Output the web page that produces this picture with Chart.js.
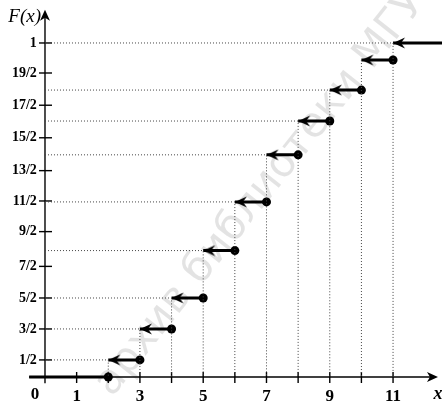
<!DOCTYPE html>
<html>
<head>
<meta charset="utf-8">
<script src="https://cdn.jsdelivr.net/npm/chart.js@4.4.1/dist/chart.umd.min.js"></script>
<style>
  html, body { margin: 0; padding: 0; background: #fff; }
  #wrap { width: 442px; height: 401px; }
</style>
</head>
<body>
<div id="wrap"><canvas id="cdf"></canvas></div>
<script>
// точки скачков функции распределения и её значения между ними
const jumpX = [2, 3, 4, 5, 6, 7, 8, 9, 10, 11];
const levels = [0, 0.054, 0.152, 0.25, 0.40, 0.554, 0.703, 0.81, 0.908, 1.003, 1.057];
// есть ли горизонтальный пунктир от оси F(x) к скачку
const hasGuide = [true, true, true, true, true, true, true, true, false, true];

// подписи осей
const xTicks = [0, 1, 2, 3, 4, 5, 6, 7, 8, 9, 10, 11];
const xLabels = ['0', '1', '', '3', '', '5', '', '7', '', '9', '', '11'];
const yTicks = [0.054, 0.152, 0.25, 0.35, 0.46, 0.557, 0.653, 0.757, 0.86, 0.962, 1.057];
const yLabels = ['1/2', '3/2', '5/2', '7/2', '9/2', '11/2', '13/2', '15/2', '17/2', '19/2', '1'];

const serif = '"Liberation Serif", "DejaVu Serif", serif';

// пунктирные линии к осям
const guideData = [];
jumpX.forEach((x, i) => {
    const y = levels[i + 1];
    if (hasGuide[i]) guideData.push({x: 0, y: y});
    guideData.push({x: x, y: y}, {x: x, y: 0}, {x: x, y: null});
});

// ступеньки: стрелка слева, точка справа
const stepData = [
    {x: -0.5, y: levels[0], kind: 'none'},
    {x: jumpX[0], y: levels[0], kind: 'dot'},
    {x: jumpX[0], y: null}
];
for (let i = 1; i < jumpX.length; i++) {
    stepData.push(
        {x: jumpX[i - 1], y: levels[i], kind: 'arrow'},
        {x: jumpX[i], y: levels[i], kind: 'dot'},
        {x: jumpX[i], y: null}
    );
}
stepData.push(
    {x: jumpX[jumpX.length - 1], y: levels[levels.length - 1], kind: 'arrow'},
    {x: 13, y: levels[levels.length - 1], kind: 'none'}
);

// наконечник стрелки (остриё в центре картинки)
const arrowImg = document.createElement('canvas');
arrowImg.width = 26;
arrowImg.height = 12;
const actx = arrowImg.getContext('2d');
actx.beginPath();
actx.moveTo(13, 6);
actx.lineTo(25, 0.5);
actx.lineTo(21, 6);
actx.lineTo(25, 11.5);
actx.closePath();
actx.fill();

function headTo(ctx, x, y, dx, dy) {
    // маленький наконечник оси
    const nx = -dy, ny = dx;
    ctx.beginPath();
    ctx.moveTo(x, y);
    ctx.lineTo(x - dx * 11 + nx * 5, y - dy * 11 + ny * 5);
    ctx.lineTo(x - dx * 8, y - dy * 8);
    ctx.lineTo(x - dx * 11 - nx * 5, y - dy * 11 - ny * 5);
    ctx.closePath();
    ctx.fill();
}

// оси не должны отнимать место у области графика
function noRoom(s) {
    if (s.axis === 'x') s.height = 0; else s.width = 0;
    s.paddingTop = s.paddingBottom = s.paddingLeft = s.paddingRight = 0;
}

const axesPlugin = {
    id: 'axes',
    beforeDraw(chart) {
        const ctx = chart.ctx;
        ctx.save();
        ctx.fillStyle = '#fff';
        ctx.fillRect(0, 0, chart.width, chart.height);
        // водяной знак скана
        ctx.translate(112, 398);
        ctx.rotate(-0.9);
        ctx.font = '42px "DejaVu Sans"';
        ctx.fillStyle = 'rgba(0,0,0,0.11)';
        ctx.fillText('архив библиотеки МГУ им', 0, 0);
        ctx.restore();
    },
    beforeDatasetsDraw(chart) {
        const {ctx, scales: {x, y}} = chart;
        const x0 = x.getPixelForValue(0);
        const y0 = y.getPixelForValue(0);
        ctx.save();
        ctx.strokeStyle = '#000';
        ctx.fillStyle = '#000';
        ctx.lineWidth = 1.4;

        const xl = x.getPixelForValue(-0.5);
        const xr = x.getPixelForValue(12.42);
        ctx.beginPath();
        ctx.moveTo(xl, y0);
        ctx.lineTo(xr - 6, y0);
        ctx.stroke();
        headTo(ctx, xr, y0, 1, 0);

        const yb = y.getPixelForValue(-0.02);
        const yt = y.getPixelForValue(1.162);
        ctx.beginPath();
        ctx.moveTo(x0, yb);
        ctx.lineTo(x0, yt + 6);
        ctx.stroke();
        headTo(ctx, x0, yt, 0, -1);

        xTicks.forEach(v => {
            if (v === 0) return;
            const px = x.getPixelForValue(v);
            ctx.beginPath();
            ctx.moveTo(px, y0 - 5);
            ctx.lineTo(px, y0 + 6);
            ctx.stroke();
        });
        yTicks.forEach(v => {
            const py = y.getPixelForValue(v);
            ctx.beginPath();
            ctx.moveTo(x0 - 6, py);
            ctx.lineTo(x0 + 7, py);
            ctx.stroke();
        });

        // подпись нуля чуть левее начала координат
        ctx.font = 'bold 17px ' + serif;
        ctx.textAlign = 'center';
        ctx.textBaseline = 'top';
        ctx.fillText(xLabels[0], x0 - 10, y0 + 9);

        ctx.font = 'italic 19px ' + serif;
        ctx.textAlign = 'right';
        ctx.textBaseline = 'middle';
        ctx.fillText('F(x)', x0 - 4, yt + 7);

        ctx.font = 'bold italic 18px ' + serif;
        ctx.textAlign = 'center';
        ctx.textBaseline = 'top';
        ctx.fillText('x', xr, y0 + 8);
        ctx.restore();
    }
};

new Chart(document.getElementById('cdf'), {
    type: 'line',
    data: {
        datasets: [{
            data: guideData,
            borderColor: '#444',
            borderWidth: 1,
            borderDash: [1, 2],
            pointRadius: 0,
            spanGaps: false
        }, {
            data: stepData,
            borderColor: '#000',
            borderWidth: 3,
            spanGaps: false,
            pointStyle: c => (c.raw && c.raw.kind === 'arrow') ? arrowImg : 'circle',
            pointRadius: c => (c.raw && c.raw.kind === 'none') ? 0 : 4.5,
            pointBackgroundColor: '#000',
            pointBorderWidth: 0
        }]
    },
    options: {
        responsive: true,
        maintainAspectRatio: false,
        animation: false,
        events: [],
        layout: { padding: 0, autoPadding: false },
        plugins: { legend: { display: false }, tooltip: { enabled: false } },
        scales: {
            x: {
                type: 'linear',
                position: { y: 0 },
                min: -1.422,
                max: 12.547,
                grid: { display: false, drawTicks: false, tickLength: 0 },
                border: { display: false },
                afterFit: noRoom,
                afterBuildTicks: s => { s.ticks = xTicks.map(v => ({value: v})); },
                ticks: {
                    padding: 9,
                    color: '#000',
                    font: { family: serif, size: 17, weight: 'bold' },
                    maxRotation: 0,
                    autoSkip: false,
                    callback: (v, i) => i === 0 ? '' : xLabels[i]
                }
            },
            y: {
                type: 'linear',
                // подписи стоят левее самой оси
                position: { x: -0.26 },
                min: -0.076,
                max: 1.193,
                grid: { display: false, drawTicks: false, tickLength: 0 },
                border: { display: false },
                afterFit: noRoom,
                afterBuildTicks: s => { s.ticks = yTicks.map(v => ({value: v})); },
                ticks: {
                    color: '#000',
                    font: { family: serif, size: 14, weight: 'bold' },
                    autoSkip: false,
                    callback: (v, i) => yLabels[i]
                }
            }
        }
    },
    plugins: [axesPlugin]
});
</script>
</body>
</html>
